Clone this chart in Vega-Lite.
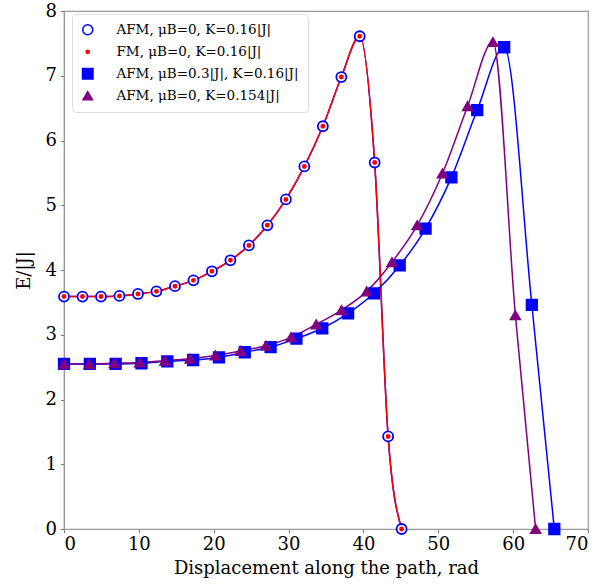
{
  "$schema": "https://vega.github.io/schema/vega-lite/v6.json",
  "autosize": "none",
  "width": 524,
  "height": 518,
  "padding": {"left": 64, "top": 11, "right": 27, "bottom": 55},
  "background": "white",
  "config": {
    "font": "DejaVu Serif",
    "view": {"stroke": "#999999", "strokeWidth": 1.2},
    "axis": {
      "grid": false,
      "domainColor": "#999999",
      "domainWidth": 1.2,
      "tickColor": "#777777",
      "tickSize": 3.5,
      "labelFont": "DejaVu Serif",
      "labelFontSize": 18,
      "labelColor": "#000000",
      "titleFont": "DejaVu Serif",
      "titleFontSize": 18,
      "titleFontWeight": "normal",
      "titleColor": "#000000"
    },
    "legend": {
      "labelFont": "DejaVu Serif",
      "labelFontSize": 13.5,
      "labelColor": "#000000",
      "labelLimit": 400
    }
  },
  "data": {
    "values": [
      {"series": "AFM1", "x": 0, "y": 3.59},
      {"series": "AFM1", "x": 2.47, "y": 3.59},
      {"series": "AFM1", "x": 4.94, "y": 3.59},
      {"series": "AFM1", "x": 7.41, "y": 3.6},
      {"series": "AFM1", "x": 9.88, "y": 3.63},
      {"series": "AFM1", "x": 12.35, "y": 3.67},
      {"series": "AFM1", "x": 14.82, "y": 3.75},
      {"series": "AFM1", "x": 17.29, "y": 3.84},
      {"series": "AFM1", "x": 19.76, "y": 3.98},
      {"series": "AFM1", "x": 22.23, "y": 4.15},
      {"series": "AFM1", "x": 24.7, "y": 4.38},
      {"series": "AFM1", "x": 27.17, "y": 4.69},
      {"series": "AFM1", "x": 29.64, "y": 5.09},
      {"series": "AFM1", "x": 32.11, "y": 5.6},
      {"series": "AFM1", "x": 34.58, "y": 6.22},
      {"series": "AFM1", "x": 37.05, "y": 6.98},
      {"series": "AFM1", "x": 39.5, "y": 7.61},
      {"series": "AFM1", "x": 41.5, "y": 5.66},
      {"series": "AFM1", "x": 43.3, "y": 1.43},
      {"series": "AFM1", "x": 45.1, "y": 0},
      {"series": "FM", "x": 0, "y": 3.59},
      {"series": "FM", "x": 2.47, "y": 3.59},
      {"series": "FM", "x": 4.94, "y": 3.59},
      {"series": "FM", "x": 7.41, "y": 3.6},
      {"series": "FM", "x": 9.88, "y": 3.63},
      {"series": "FM", "x": 12.35, "y": 3.67},
      {"series": "FM", "x": 14.82, "y": 3.75},
      {"series": "FM", "x": 17.29, "y": 3.84},
      {"series": "FM", "x": 19.76, "y": 3.98},
      {"series": "FM", "x": 22.23, "y": 4.15},
      {"series": "FM", "x": 24.7, "y": 4.38},
      {"series": "FM", "x": 27.17, "y": 4.69},
      {"series": "FM", "x": 29.64, "y": 5.09},
      {"series": "FM", "x": 32.11, "y": 5.6},
      {"series": "FM", "x": 34.58, "y": 6.22},
      {"series": "FM", "x": 37.05, "y": 6.98},
      {"series": "FM", "x": 39.5, "y": 7.61},
      {"series": "FM", "x": 41.5, "y": 5.66},
      {"series": "FM", "x": 43.3, "y": 1.43},
      {"series": "FM", "x": 45.1, "y": 0},
      {"series": "AFM2", "x": 0, "y": 2.55},
      {"series": "AFM2", "x": 3.45, "y": 2.55},
      {"series": "AFM2", "x": 6.9, "y": 2.55},
      {"series": "AFM2", "x": 10.35, "y": 2.56},
      {"series": "AFM2", "x": 13.8, "y": 2.59},
      {"series": "AFM2", "x": 17.25, "y": 2.61},
      {"series": "AFM2", "x": 20.7, "y": 2.65},
      {"series": "AFM2", "x": 24.15, "y": 2.73},
      {"series": "AFM2", "x": 27.6, "y": 2.81},
      {"series": "AFM2", "x": 31.05, "y": 2.94},
      {"series": "AFM2", "x": 34.5, "y": 3.1},
      {"series": "AFM2", "x": 37.95, "y": 3.33},
      {"series": "AFM2", "x": 41.4, "y": 3.64},
      {"series": "AFM2", "x": 44.85, "y": 4.07},
      {"series": "AFM2", "x": 48.3, "y": 4.64},
      {"series": "AFM2", "x": 51.75, "y": 5.43},
      {"series": "AFM2", "x": 55.2, "y": 6.47},
      {"series": "AFM2", "x": 58.8, "y": 7.44},
      {"series": "AFM2", "x": 62.5, "y": 3.46},
      {"series": "AFM2", "x": 65.5, "y": 0},
      {"series": "AFM3", "x": 0, "y": 2.55},
      {"series": "AFM3", "x": 3.37, "y": 2.55},
      {"series": "AFM3", "x": 6.74, "y": 2.56},
      {"series": "AFM3", "x": 10.11, "y": 2.57},
      {"series": "AFM3", "x": 13.48, "y": 2.6},
      {"series": "AFM3", "x": 16.85, "y": 2.63},
      {"series": "AFM3", "x": 20.22, "y": 2.68},
      {"series": "AFM3", "x": 23.59, "y": 2.75},
      {"series": "AFM3", "x": 26.96, "y": 2.83},
      {"series": "AFM3", "x": 30.33, "y": 2.96},
      {"series": "AFM3", "x": 33.7, "y": 3.16},
      {"series": "AFM3", "x": 37.07, "y": 3.38},
      {"series": "AFM3", "x": 40.44, "y": 3.67},
      {"series": "AFM3", "x": 43.81, "y": 4.12},
      {"series": "AFM3", "x": 47.18, "y": 4.69},
      {"series": "AFM3", "x": 50.55, "y": 5.49},
      {"series": "AFM3", "x": 53.92, "y": 6.53},
      {"series": "AFM3", "x": 57.3, "y": 7.52},
      {"series": "AFM3", "x": 60.3, "y": 3.3},
      {"series": "AFM3", "x": 63.0, "y": 0}
    ]
  },
  "encoding": {
    "x": {
      "field": "x", "type": "quantitative",
      "scale": {"domain": [0, 70], "nice": false, "zero": false},
      "axis": {"values": [0, 10, 20, 30, 40, 50, 60, 70], "title": "Displacement along the path, rad", "titlePadding": 6, "labelPadding": 3}
    },
    "y": {
      "field": "y", "type": "quantitative",
      "scale": {"domain": [0, 8], "nice": false},
      "axis": {"values": [0, 1, 2, 3, 4, 5, 6, 7, 8], "title": "E/|J|", "titlePadding": 12, "labelPadding": 4}
    }
  },
  "layer": [
    {
      "mark": {"type": "line", "interpolate": "monotone", "strokeWidth": 1.5},
      "encoding": {
        "detail": {"field": "series", "type": "nominal"},
        "stroke": {
          "condition": [
            {"test": "datum.series === 'FM'", "value": "#ff0000"},
            {"test": "datum.series === 'AFM3'", "value": "#800080"}
          ],
          "value": "#0000ff"
        }
      }
    },
    {
      "mark": {"type": "point", "opacity": 1, "strokeWidth": 1.8},
      "encoding": {
        "shape": {
          "field": "series", "type": "nominal",
          "scale": {"domain": ["AFM1", "FM", "AFM2", "AFM3"], "range": ["circle", "circle", "square", "triangle-up"]},
          "legend": {
            "title": null,
            "orient": "none",
            "legendX": 8,
            "legendY": 3,
            "fillColor": "white",
            "strokeColor": "#dddddd",
            "cornerRadius": 4,
            "padding": 9,
            "rowPadding": 6,
            "labelOffset": 22,
            "labelExpr": "datum.value == 'AFM1' ? 'AFM, μB=0, K=0.16|J|' : datum.value == 'FM' ? 'FM, μB=0, K=0.16|J|' : datum.value == 'AFM2' ? 'AFM, μB=0.3|J|, K=0.16|J|' : 'AFM, μB=0, K=0.154|J|'"
          }
        },
        "stroke": {
          "field": "series", "type": "nominal",
          "scale": {"domain": ["AFM1", "FM", "AFM2", "AFM3"], "range": ["#0000ff", "#ff0000", "#0000ff", "#800080"]}
        },
        "fill": {
          "field": "series", "type": "nominal",
          "scale": {"domain": ["AFM1", "FM", "AFM2", "AFM3"], "range": ["#ffffff", "#ff0000", "#0000ff", "#800080"]}
        },
        "size": {
          "field": "series", "type": "nominal",
          "scale": {"type": "ordinal", "domain": ["AFM1", "FM", "AFM2", "AFM3"], "range": [100, 10, 110, 90]}
        }
      }
    }
  ]
}
